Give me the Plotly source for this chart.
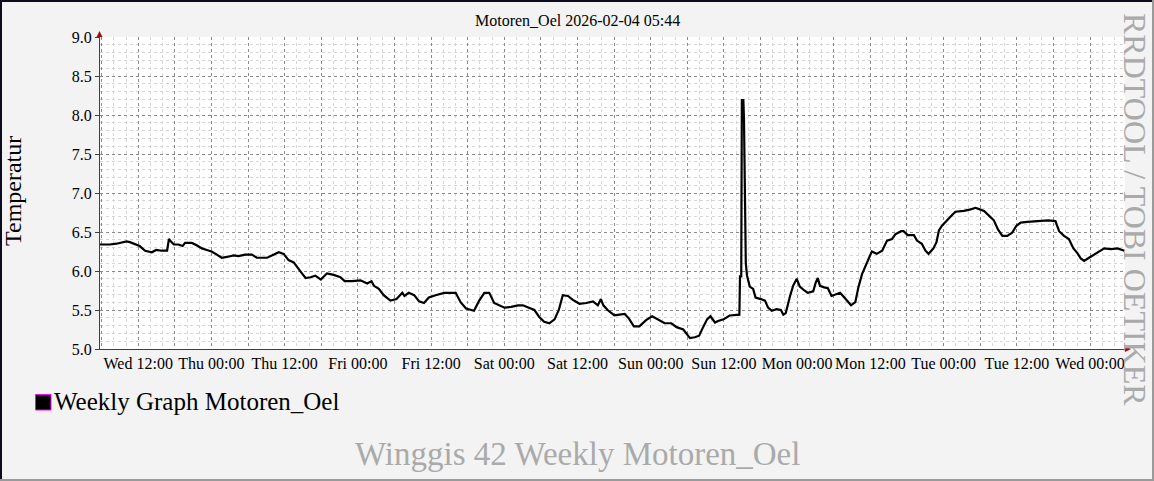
import pandas as pd
import plotly.graph_objects as go

# ---- data ----
start = pd.Timestamp("2026-01-28 05:44")
end = pd.Timestamp("2026-02-04 05:44")

# hours since start
hours = [
    0.0, 1.6, 2.7, 3.5, 4.35, 4.9, 5.7, 6.5, 7.4, 8.5, 9.2, 10.1, 11.0, 11.3, 11.6,
    12.1, 12.85, 13.55, 13.95, 15.05, 15.85, 16.7, 17.5, 18.3, 19.15, 19.95, 20.8,
    21.9, 22.7, 23.8, 24.9, 25.7, 27.4, 28.2, 29.3, 30.1, 30.9, 31.75, 32.6, 33.1,
    33.7, 34.5, 35.3, 36.2, 37.2, 38.3, 39.4, 40.1, 41.3, 42.7, 43.8, 44.5, 44.9,
    45.7, 46.5, 47.6, 48.6, 49.55, 49.9, 50.6, 51.5, 52.3, 53.1, 53.9, 55.0, 56.4,
    57.5, 58.3, 59.1, 60.0, 61.3, 62.15, 63.0, 63.8, 64.6, 65.4, 66.3, 67.4, 68.5,
    69.3, 70.4, 71.2, 72.0, 72.8, 73.65, 74.5, 75.2, 75.85, 76.7, 77.5, 78.6, 79.7,
    80.8, 81.6, 82.1, 82.5, 83.2, 84.3, 85.15, 86.0, 86.7, 87.5, 88.4, 89.5, 90.5,
    91.5, 92.55, 93.65, 94.5, 95.6, 96.7, 97.5, 98.2, 98.85, 99.5, 100.05, 100.8,
    101.3, 102.2, 103.2, 104.05, 104.8, 104.9, 105.1, 105.2, 105.45, 105.55, 105.7,
    105.85, 106.05, 106.5, 107.05, 107.45, 108.3, 109.0, 109.5, 110.1, 110.9, 111.6,
    112.0, 112.4, 113.1, 113.6, 114.2, 114.7, 115.45, 116.0, 116.9, 117.3, 117.65,
    118.0, 118.7, 119.3, 119.9, 120.75, 121.3, 122.0, 122.8, 123.1, 123.8, 124.3,
    124.9, 125.4, 126.0, 126.5, 127.3, 128.2, 129.0, 129.8, 130.35, 131.3, 131.7,
    132.4, 133.4, 133.9, 134.7, 135.3, 135.8, 136.6, 137.1, 137.5, 138.0, 138.8,
    139.7, 140.2, 141.6, 142.7, 143.5, 144.2, 144.9, 145.7, 146.5, 147.2, 147.9,
    148.7, 149.5, 150.2, 150.9, 152.0, 153.6, 155.4, 156.6, 157.2, 158.0, 158.8,
    159.55, 160.2, 160.75, 161.3, 162.1, 162.95, 163.8, 164.6, 165.7, 166.8, 167.9,
]
temps = [
    6.34, 6.34, 6.35, 6.36, 6.38, 6.37, 6.34, 6.32, 6.26, 6.24, 6.27, 6.26, 6.26, 6.41, 6.38,
    6.34, 6.34, 6.32, 6.36, 6.36, 6.33, 6.29, 6.27, 6.25, 6.21, 6.17, 6.18,
    6.20, 6.19, 6.21, 6.21, 6.17, 6.17, 6.20, 6.24, 6.22, 6.14, 6.11, 6.03, 5.97,
    5.91, 5.92, 5.94, 5.89, 5.97, 5.95, 5.92, 5.87, 5.87, 5.88, 5.84, 5.87, 5.81,
    5.77, 5.69, 5.62, 5.64, 5.72, 5.68, 5.72, 5.69, 5.61, 5.59, 5.66, 5.69, 5.72,
    5.72, 5.72, 5.60, 5.52, 5.49, 5.62, 5.72, 5.72, 5.59, 5.56, 5.53, 5.54, 5.56,
    5.56, 5.53, 5.50, 5.41, 5.35, 5.33, 5.38, 5.50, 5.69, 5.68, 5.63, 5.58, 5.59,
    5.61, 5.56, 5.64, 5.56, 5.50, 5.43, 5.44, 5.45, 5.39, 5.29, 5.29, 5.37, 5.42,
    5.38, 5.33, 5.33, 5.28, 5.25, 5.14, 5.15, 5.17, 5.28, 5.38, 5.42, 5.34,
    5.36, 5.38, 5.43, 5.44, 5.44, 5.93, 5.93, 8.19, 8.19, 7.95, 6.90,
    6.10, 5.94, 5.80, 5.77, 5.66, 5.64, 5.62, 5.53, 5.49, 5.51, 5.50,
    5.44, 5.46, 5.68, 5.81, 5.90, 5.80, 5.75, 5.72, 5.74, 5.85, 5.91,
    5.81, 5.79, 5.78, 5.68, 5.71, 5.72, 5.66, 5.58, 5.56, 5.60, 5.79,
    5.96, 6.05, 6.18, 6.25, 6.22, 6.26, 6.39, 6.41, 6.47, 6.51, 6.51,
    6.46, 6.46, 6.39, 6.35, 6.26, 6.22, 6.29, 6.37, 6.52, 6.58, 6.64,
    6.72, 6.76, 6.77, 6.79, 6.81, 6.79, 6.77, 6.71, 6.65, 6.53, 6.45,
    6.45, 6.49, 6.58, 6.62, 6.63, 6.64, 6.65, 6.64, 6.51, 6.45, 6.41,
    6.29, 6.23, 6.16, 6.13, 6.17, 6.21, 6.25, 6.29, 6.28, 6.29, 6.26,
]

title_text = "Motoren_Oel 2026-02-04 05:44"
legend_text = "Weekly Graph Motoren_Oel"
footer_text = "Winggis 42 Weekly Motoren_Oel"
side_text = "RRDTOOL / TOBI OETIKER"
y_title = "Temperatur"

# ---- geometry (pixels) ----
W, H = 1154, 481
L, R, T, B = 100, 1125, 37, 349
FONT = "Liberation Serif"


def px(x):
    return (x - L) / (R - L)


def py(y):
    return (B - y) / (B - T)


times = [start + pd.Timedelta(hours=h) for h in hours]

tick_times = pd.date_range("2026-01-28 06:00", "2026-02-04 00:00", freq="6h")
tick_text = [t.strftime("%a %H:%M") if t.hour % 12 == 0 else "" for t in tick_times]

fig = go.Figure()
fig.add_trace(go.Scatter(
    x=times, y=temps, mode="lines",
    line=dict(color="black", width=2.2),
    showlegend=False, hoverinfo="skip",
))

fig.update_layout(
    width=W, height=H,
    margin=dict(l=L, r=W - R, t=T, b=H - B, pad=0),
    paper_bgcolor="#f3f3f3",
    plot_bgcolor="white",
    font=dict(family=FONT, size=16, color="black"),
    showlegend=False,
)

fig.update_xaxes(
    type="date",
    range=[start, end],
    tickmode="array",
    tickvals=tick_times,
    ticktext=tick_text,
    showgrid=True, gridcolor="#8a8a8a", griddash="dot", gridwidth=1,
    minor=dict(tick0="2026-01-28 00:00", dtick=2 * 3600 * 1000,
               showgrid=True, gridcolor="#d6d6d6", griddash="dot"),
    showline=True, linecolor="#404040", linewidth=1,
    ticks="", zeroline=False,
    tickfont=dict(family=FONT, size=16),
)
fig.update_yaxes(
    range=[5.0, 9.0],
    tick0=5.0, dtick=0.5, tickformat=".1f",
    showgrid=True, gridcolor="#8a8a8a", griddash="dot", gridwidth=1,
    minor=dict(dtick=0.1, showgrid=True, gridcolor="#d6d6d6", griddash="dot"),
    showline=True, linecolor="#404040", linewidth=1,
    ticks="outside", ticklen=4, tickcolor="#404040",
    zeroline=False,
    tickfont=dict(family=FONT, size=16),
)

shapes = [
    # frame
    dict(type="line", xref="paper", yref="paper", x0=px(0), x1=px(W), y0=py(1), y1=py(1),
         line=dict(color="#0c0c1c", width=2)),
    dict(type="line", xref="paper", yref="paper", x0=px(1), x1=px(1), y0=py(0), y1=py(H),
         line=dict(color="#0c0c1c", width=2)),
    dict(type="line", xref="paper", yref="paper", x0=px(0), x1=px(W), y0=py(H - 1), y1=py(H - 1),
         line=dict(color="#9a9a9a", width=2)),
    dict(type="line", xref="paper", yref="paper", x0=px(W - 1), x1=px(W - 1), y0=py(0), y1=py(H),
         line=dict(color="#9a9a9a", width=2)),
    # axis arrows
    dict(type="path", xref="paper", yref="paper",
         path=f"M {px(96.5)},{py(37)} L {px(102.5)},{py(37)} L {px(99.5)},{py(31)} Z",
         fillcolor="#a01010", line=dict(color="#a01010", width=0)),
    dict(type="path", xref="paper", yref="paper",
         path=f"M {px(1125)},{py(346)} L {px(1125)},{py(352)} L {px(1131)},{py(349)} Z",
         fillcolor="#a01010", line=dict(color="#a01010", width=0)),
    # legend swatch
    dict(type="rect", xref="paper", yref="paper",
         x0=px(35.5), x1=px(51), y0=py(394.5), y1=py(410),
         fillcolor="black", line=dict(color="#ff00ff", width=1)),
]
fig.update_layout(shapes=shapes)

annotations = [
    dict(text=title_text, x=px(577), y=py(21), xref="paper", yref="paper",
         xanchor="center", yanchor="middle", showarrow=False,
         font=dict(family=FONT, size=16, color="black")),
    dict(text=y_title, x=px(13), y=py(191), xref="paper", yref="paper",
         xanchor="center", yanchor="middle", showarrow=False, textangle=-90,
         font=dict(family=FONT, size=24, color="black")),
    dict(text=legend_text, x=px(52), y=py(401), xref="paper", yref="paper",
         xanchor="left", yanchor="middle", showarrow=False,
         font=dict(family=FONT, size=25, color="black")),
    dict(text=footer_text, x=px(577), y=py(454), xref="paper", yref="paper",
         xanchor="center", yanchor="middle", showarrow=False,
         font=dict(family=FONT, size=33, color="#aaaaaa")),
    dict(text=side_text, x=px(1135), y=py(209), xref="paper", yref="paper",
         xanchor="center", yanchor="middle", showarrow=False, textangle=90,
         font=dict(family=FONT, size=32, color="#aaaaaa")),
]
fig.update_layout(annotations=annotations)

# page body default margin would shift the figure by 8px
fig.write_html("out.html", config={"displayModeBar": False},
               post_script="document.body.style.margin='0';")
